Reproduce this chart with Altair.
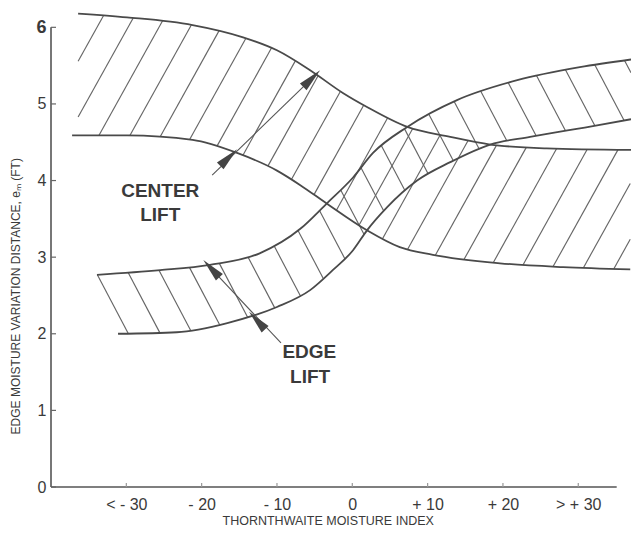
import numpy as np
import pandas as pd
import altair as alt

# ---- boundary curves (x = Thornthwaite index, y = e_m in ft)
cu_x = [-36.4, -29.9, -21.2, -14.5, -10.0, -5.6, -1.2, 1.95, 7.3, 13.0, 18.3, 25.8, 37.0]
cu_y = [6.18, 6.13, 6.03, 5.87, 5.70, 5.44, 5.14, 4.96, 4.70, 4.57, 4.47, 4.42, 4.40]
cl_x = [-37.2, -29.9, -21.2, -15.3, -10.0, -6.9, -3.4, 1.95, 6.3, 10.7, 19.6, 28.0, 36.9]
cl_y = [4.59, 4.59, 4.53, 4.36, 4.13, 3.94, 3.70, 3.35, 3.13, 3.03, 2.92, 2.87, 2.84]
eu_x = [-33.9, -25.5, -18.9, -12.3, -6.9, -3.4, 0.1, 2.75, 7.3, 13.9, 21.9, 30.2, 37.0]
eu_y = [2.77, 2.83, 2.90, 3.05, 3.37, 3.70, 4.04, 4.36, 4.70, 5.05, 5.31, 5.48, 5.58]
el_x = [-31.1, -23.3, -16.6, -10.0, -5.6, -2.6, 0.1, 1.95, 4.6, 8.6, 13.0, 18.3, 23.6, 32.5, 37.0]
el_y = [2.00, 2.02, 2.14, 2.35, 2.57, 2.83, 3.09, 3.35, 3.65, 4.00, 4.24, 4.47, 4.57, 4.72, 4.80]

xtick_values = [-30, -20, -10, 0, 10, 20, 30]
xtick_labels = ["< - 30", "- 20", "- 10", "0", "+ 10", "+ 20", "> + 30"]
ytick_values = [0, 1, 2, 3, 4, 5, 6]

x_title = "THORNTHWAITE MOISTURE INDEX"
y_title = "EDGE MOISTURE VARIATION DISTANCE, eₘ (FT)"

ann_text = ["CENTER", "LIFT", "EDGE", "LIFT"]
ann_x = [-25.5, -25.5, -5.7, -5.6]
ann_y = [3.87, 3.55, 1.76, 1.43]

arrow_x = [-18.6, -9.47]
arrow_y = [4.07, 1.88]
arrow_x2 = [-4.77, -19.29]
arrow_y2 = [5.39, 2.91]
head_x = [-5.39, -16.41, -18.71, -12.64]
head_y = [5.33, 4.30, 2.851, 2.173]
head_angle = [45.6, 45.6, 317.3, 317.3]

# ---- layout
W, H = 580, 475
XDOM = [-40, 37]
YDOM = [0, 6.2]
pxx = W / (XDOM[1] - XDOM[0])
pxy = H / (YDOM[1] - YDOM[0])


def steffen(xs, ys, xq):
    xs = np.asarray(xs, float)
    ys = np.asarray(ys, float)
    xq = np.asarray(xq, float)
    h = np.diff(xs)
    s = np.diff(ys) / h
    n = len(xs)
    m = np.zeros(n)
    for i in range(1, n - 1):
        p = (s[i - 1] * h[i] + s[i] * h[i - 1]) / (h[i - 1] + h[i])
        m[i] = (np.sign(s[i - 1]) + np.sign(s[i])) * min(abs(s[i - 1]), abs(s[i]), 0.5 * abs(p))
    m[0] = (3 * s[0] - m[1]) / 2
    m[-1] = (3 * s[-1] - m[-2]) / 2
    out = np.full(xq.shape, np.nan)
    idx = np.clip(np.searchsorted(xs, xq) - 1, 0, n - 2)
    ok = (xq >= xs[0]) & (xq <= xs[-1])
    i = idx[ok]
    t = (xq[ok] - xs[i]) / h[i]
    h00 = 2 * t**3 - 3 * t**2 + 1
    h10 = t**3 - 2 * t**2 + t
    h01 = -2 * t**3 + 3 * t**2
    h11 = t**3 - t**2
    out[ok] = h00 * ys[i] + h10 * h[i] * m[i] + h01 * ys[i + 1] + h11 * h[i] * m[i + 1]
    return out


def hatch(ux, uy, lx, ly, k_px, x0, y0, spacing_px, nrange, open_left=False):
    K = k_px * pxx / pxy
    dc = spacing_px / pxx
    xg = np.linspace(max(ux[0], XDOM[0]), min(ux[-1], lx[-1], XDOM[1]), 8000)
    U = steffen(ux, uy, xg)
    L = steffen(lx, ly, xg)
    if open_left:
        L = np.where(np.isnan(L), -1e9, L)
    segs = []
    for n in nrange:
        c = x0 + n * dc
        yl = y0 + K * (xg - c)
        with np.errstate(invalid="ignore"):
            inside = (yl <= U) & (yl >= L)
        w = np.where(inside)[0]
        if len(w) < 2:
            continue
        a, b = w[0], w[-1]
        segs.append((xg[a], yl[a], xg[b], yl[b]))
    return segs


c_segs = hatch(cu_x, cu_y, cl_x, cl_y, 1.8, -29.78, 6.0, 31, range(-5, 40))
e_segs = hatch(eu_x, eu_y, el_x, el_y, -1.9, -33.85, 2.77, 32, range(0, 40), open_left=True)
hatch_df = pd.DataFrame(c_segs + e_segs, columns=["x", "y", "x2", "y2"])

curves = pd.concat([
    pd.DataFrame({"curve": "cu", "x": cu_x, "y": cu_y}),
    pd.DataFrame({"curve": "cl", "x": cl_x, "y": cl_y}),
    pd.DataFrame({"curve": "eu", "x": eu_x, "y": eu_y}),
    pd.DataFrame({"curve": "el", "x": el_x, "y": el_y}),
])

label_expr = " : ".join(
    f"datum.value == {v} ? '{l}'" for v, l in zip(xtick_values, xtick_labels)
) + " : ''"

xaxis = alt.Axis(values=xtick_values, labelExpr=label_expr, domain=False, ticks=False,
                 grid=False, labelPadding=9, labelFontSize=16, labelFont="Liberation Sans",
                 labelColor="#3a3a3a", title=None)
yaxis = alt.Axis(values=ytick_values, domain=False, ticks=False, grid=False, labelPadding=5,
                 labelFontSize={"condition": {"test": "datum.value == 6", "value": 18}, "value": 16},
                 labelFontWeight={"condition": {"test": "datum.value == 6", "value": "bold"}, "value": "normal"},
                 labelFont="Liberation Sans", labelColor="#3a3a3a", title=None)

xs = alt.Scale(domain=XDOM, nice=False, zero=False)
ys = alt.Scale(domain=YDOM, nice=False, zero=False)


def X(f):
    return alt.X(f, type="quantitative", scale=xs, axis=xaxis)


def Y(f):
    return alt.Y(f, type="quantitative", scale=ys, axis=yaxis)


lines = alt.Chart(curves).mark_line(interpolate="monotone", color="#4a4a4a", strokeWidth=1.8).encode(
    x=X("x"), y=Y("y"), detail="curve:N")

hatches = alt.Chart(hatch_df).mark_rule(color="#666666", strokeWidth=1.15).encode(
    x=X("x"), y=Y("y"), x2="x2", y2="y2")

axis_df = pd.DataFrame({"x": [XDOM[0], XDOM[0]], "y": [0, 0], "x2": [XDOM[0], 35.1], "y2": [6.0, 0]})
axis_lines = alt.Chart(axis_df).mark_rule(color="#555555", strokeWidth=1.6).encode(
    x=X("x"), y=Y("y"), x2="x2", y2="y2")

yt_df = pd.DataFrame({"x": [XDOM[0]] * len(ytick_values), "x2": [XDOM[0] + 5 / pxx] * len(ytick_values),
                      "y": ytick_values})
yticks = alt.Chart(yt_df).mark_rule(color="#666666", strokeWidth=1.2).encode(
    x=X("x"), x2="x2", y=Y("y"))
xt_df = pd.DataFrame({"x": xtick_values, "y": [0] * len(xtick_values), "y2": [4 / pxy] * len(xtick_values)})
xticks = alt.Chart(xt_df).mark_rule(color="#999999", strokeWidth=1.2).encode(
    x=X("x"), y=Y("y"), y2="y2")

ann_df = pd.DataFrame({"t": ann_text, "x": ann_x, "y": ann_y})
ann = alt.Chart(ann_df).mark_text(fontSize=19, fontWeight="bold", font="Liberation Sans",
                                  color="#3a3a3a", baseline="middle", align="center").encode(
    x=X("x"), y=Y("y"), text="t:N")

titles_df = pd.DataFrame({"t": [x_title], "x": [-3.2], "y": [-0.45]})
xtitle = alt.Chart(titles_df).mark_text(fontSize=12.5, font="Liberation Sans", color="#3a3a3a",
                                        baseline="middle", align="center").encode(
    x=X("x"), y=Y("y"), text="t:N")
ytitle_df = pd.DataFrame({"t": [y_title], "x": [-44.7], "y": [2.49]})
ytitle = alt.Chart(ytitle_df).mark_text(fontSize=12, font="Liberation Sans", color="#3a3a3a",
                                        baseline="middle", align="center", angle=270).encode(
    x=X("x"), y=Y("y"), text="t:N")

arr_df = pd.DataFrame({"x": arrow_x, "y": arrow_y, "x2": arrow_x2, "y2": arrow_y2})
arrows = alt.Chart(arr_df).mark_rule(color="#555555", strokeWidth=1.1).encode(
    x=X("x"), y=Y("y"), x2="x2", y2="y2")

head_df = pd.DataFrame({"x": head_x, "y": head_y, "a": head_angle})
heads = alt.Chart(head_df).mark_point(shape="M0,-1L0.4,1L-0.4,1Z", filled=True, size=560,
                                      color="#444444", opacity=1).encode(
    x=X("x"), y=Y("y"), angle=alt.Angle("a:Q", scale=None))

chart = alt.layer(hatches, lines, axis_lines, yticks, xticks, arrows, heads, ann, xtitle, ytitle).properties(
    width=W, height=H,
    autosize=alt.AutoSizeParams(type="none"),
    padding={"left": 43, "top": 4, "right": 0, "bottom": 43},
    background="white",
).configure_view(stroke=None)

chart.save("out.html", embed_options={"renderer": "svg", "actions": False})
